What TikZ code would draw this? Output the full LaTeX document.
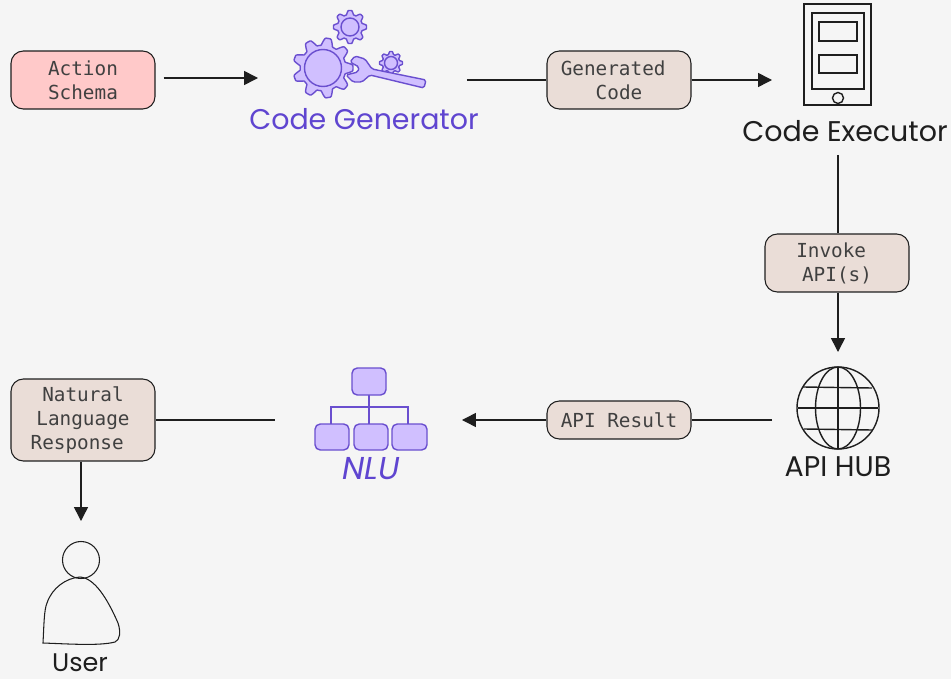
\documentclass[tikz,border=0pt]{standalone}
\usepackage{fontspec}
\usepackage{xcolor}
\setsansfont{Poppins}
\setmonofont{DejaVu Sans Mono}
\usetikzlibrary{arrows.meta}
\definecolor{pagebg}{HTML}{F5F5F5}
\definecolor{inkline}{HTML}{1E1E1E}
\definecolor{violetline}{HTML}{6A4FCF}
\definecolor{violetfill}{HTML}{D0BFFF}
\definecolor{violettext}{HTML}{5F45D0}
\definecolor{rosefill}{HTML}{FFC9C9}
\definecolor{sandfill}{HTML}{EADDD7}
\tikzset{
    msgbox/.style={draw=inkline, fill=sandfill, rounded corners=7pt, line width=.6pt, minimum width=2.88cm,
        align=center, text=black!75, font=\ttfamily\fontsize{11}{13.6}\selectfont},
    iconspot/.style={inner sep=0pt, outer sep=0pt},
    flow/.style={draw=inkline, line width=.85pt},
    flowtip/.style={flow, -{Triangle[length=.28cm,width=.28cm]}},
    inkicon/.style={draw=inkline, line width=.8pt},
    violeticon/.style={draw=violetline, fill=violetfill, line width=.8pt, line join=round},
    handink/.style={text=inkline, font=\sffamily\fontsize{16.2}{18}\selectfont},
    handviolet/.style={text=violettext, font=\sffamily\fontsize{16.2}{18}\selectfont}
}
% gear: x, y, outer radius, inner radius, teeth
\newcommand{\geartool}[5]{
    \draw[violeticon] plot[domain=0:360, samples=181]
        ({#1+#3*(.88+.12*max(-1,min(1,1.5*cos(#5*\x))))*cos(\x)},
         {#2+#3*(.88+.12*max(-1,min(1,1.5*cos(#5*\x))))*sin(\x)}) -- cycle;
    \draw[violeticon] (#1,#2) circle[radius=#4];
}
\begin{document}
\begin{tikzpicture}[x=.02cm, y=-.02cm, font=\sffamily]
        \useasboundingbox (0,0) rectangle (951,679);
        \fill[pagebg] (0,0) rectangle (951,679);

        % Boxes
        \node[msgbox, fill=rosefill, minimum height=1.16cm] (schema) at (83,80) {Action\\Schema};
        \node[msgbox, minimum height=1.16cm] (gencode) at (619,80) {Generated\phantom{x}\\Code};
        \node[msgbox, minimum height=1.16cm] (invoke) at (837,263) {Invoke\phantom{x}\\API(s)};
        \node[msgbox, minimum height=.76cm] (result) at (619,420) {API Result};
        \node[msgbox, minimum height=1.64cm] (response) at (83,420) {Natural\\Language\\Response\phantom{x}};

        % Places of the icons
        \node[iconspot, minimum width=4.18cm, minimum height=1.6cm] (gen) at (362.5,78) {};
        \node[iconspot, minimum width=2.64cm, minimum height=3cm] (exec) at (838,80) {};
        \node[iconspot, minimum width=2.64cm, minimum height=2.72cm] (hub) at (838,420) {};
        \node[iconspot, minimum width=3.74cm, minimum height=1.6cm] (nlu) at (368.5,420) {};
        \node[iconspot, minimum width=2cm, minimum height=3.16cm] (user) at (81,600) {};

        % Code Generator
        \geartool{323}{68}{30}{18.5}{9}
        \geartool{350}{27}{16.5}{9}{8}
        \geartool{391}{63}{11.5}{6.5}{8}
        \draw[violeticon, rounded corners=1pt] (355,56) -- (365,59) -- (372,69) -- (426,80) -- (424,88) -- (370,75)
            -- (362,82) -- (353,82) -- (346,75) -- (358,72) -- (359,67) -- (350,62) -- cycle;
        \node[handviolet] (genlabel) at (364,119) {Code Generator};

        % Code Executor
        \draw[inkicon] (804,4) rectangle (871,105);
        \draw[inkicon] (812,13) rectangle (864,89);
        \draw[inkicon] (819,22) rectangle (857,41);
        \draw[inkicon] (819,55) rectangle (857,73);
        \draw[inkicon, fill=pagebg] (838,98) circle[radius=5.5];
        \node[handink] (execlabel) at (845,131) {Code Executor};

        % API HUB
        \draw[inkicon] (838,408) circle[radius=41];
        \draw[inkicon] (838,408) ellipse[x radius=22.5, y radius=41];
        \draw[inkicon] (838,367) -- (838,449);
        \draw[inkicon] (803,387) -- (872,388);
        \draw[inkicon] (798,408) -- (878,408);
        \draw[inkicon] (804,429) -- (872,430);
        \node[handink] (hublabel) at (838,467) {API HUB};

        % NLU
        \draw[violetline, line width=.7pt] (369,395) -- (369,424);
        \draw[violetline, line width=.7pt] (331,424) -- (331,407) -- (408,407) -- (408,424);
        \draw[violeticon, rounded corners=3pt] (352,368) rectangle (386,395);
        \draw[violeticon, rounded corners=3pt] (315,424) rectangle (349,450);
        \draw[violeticon, rounded corners=3pt] (354,424) rectangle (388,450);
        \draw[violeticon, rounded corners=3pt] (392,424) rectangle (427,450);
        \node[handviolet, font=\sffamily\itshape\fontsize{18}{20}\selectfont] (nlulabel) at (371,469) {NLU};

        % User
        \draw[inkline, line width=.6pt] (81,560) circle[radius=18.5];
        \draw[inkline, line width=.6pt] (43,643) .. controls (44,625) and (44,610) .. (47,603)
            .. controls (52,588) and (66,578) .. (80,577) .. controls (95,578) and (108,600) .. (118,623)
            .. controls (121,632) and (120,640) .. (115,642) .. controls (100,646) and (70,644) .. (43,643) -- cycle;
        \node[handink, font=\sffamily\fontsize{14.5}{16}\selectfont] (userlabel) at (80,663) {User};

        % Connectors
        \draw[flowtip] ([xshift=.16cm]schema.east |- gen.west) -- (gen.west);
        \draw[flow] (gen.east |- gencode.west) -- (gencode.west);
        \draw[flowtip] (gencode.east) -- (gencode.east -| exec.west);
        \draw[flow] (exec.south) -- (exec.south |- invoke.north);
        \draw[flowtip] (invoke.south -| hub.north) -- (hub.north);
        \draw[flow] (hub.west) -- (result.east);
        \draw[flowtip] (result.west) -- (nlu.east);
        \draw[flow] (response.east) -- (nlu.west);
        \draw[flowtip] (response.south -| user.north) -- (user.north);
    \end{tikzpicture}
\end{document}
